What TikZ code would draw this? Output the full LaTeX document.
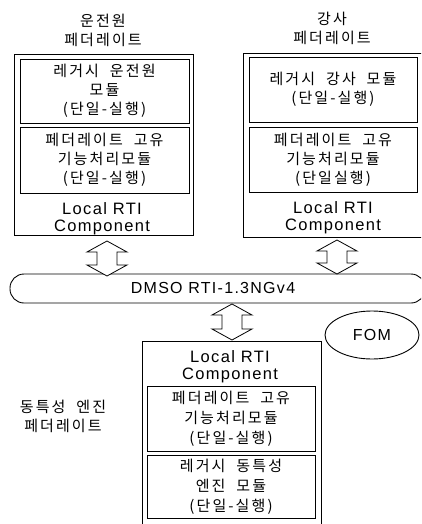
\documentclass[tikz,border=0pt]{standalone}
\usepackage{fontspec}
\setmainfont{Liberation Sans}
\newfontfamily\kr[LetterSpace=14,WordSpace=2]{Noto Sans CJK KR}
\newfontfamily\lat[LetterSpace=8]{Liberation Sans}
\usetikzlibrary{calc,shapes.geometric}
\newcommand{\hollowarrow}[2]{\draw[harrow] let \p1=(#1), \p2=(#2) in
  (\x1,\y1) -- ++(20pt,-11pt) -- ++(-10pt,0pt) -- (\x1+10pt,\y2+11pt) -- ++(10pt,0pt)
  -- (\x2,\y2) -- ++(-20pt,11pt) -- ++(10pt,0pt) -- (\x1-10pt,\y1-11pt) -- ++(-10pt,0pt) -- cycle;}
\begin{document}
\begin{tikzpicture}[x=1pt,y=-1pt,line width=0.9pt,
  box/.style={draw, rectangle, inner sep=0pt},
  kt/.style={font=\kr\fontsize{15}{19}\selectfont, align=center, inner sep=0pt},
  lt/.style={font=\lat\fontsize{16.5}{17}\selectfont, align=center, inner sep=0pt},
  harrow/.style={draw, line width=0.8pt, fill=white}]
\useasboundingbox (0,0) rectangle (421,524);
\clip (0,0) rectangle (421,524);
\fill[white] (0,0) rectangle (421,524);

% left federate
\node[kt] (ltitle) at (103,30) {운전원\\페더레이트};
\node[box, minimum width=179, minimum height=181] (lbox) at (103.5,144.5) {};
\node[box, minimum width=169, minimum height=64] (lin1) at (104.5,91) {};
\node[kt] (lin1t) at (lin1) {레거시 운전원\\모듈\\(단일-실행)};
\node[box, minimum width=169, minimum height=66] (lin2) at (104.5,160) {};
\node[kt] (lin2t) at (lin2) {페더레이트 고유\\기능처리모듈\\(단일-실행)};
\node[lt] (lrti) at (102,219) {Local RTI\\Component};

% right federate
\node[kt] (rtitle) at (332,28) {강사\\페더레이트};
\node[box, minimum width=182, minimum height=184] (rbox) at (334,145) {};
\node[box, minimum width=168, minimum height=65] (rin1) at (333,89.5) {};
\node[kt] (rin1t) at (rin1) {레거시 강사 모듈\\(단일-실행)};
\node[box, minimum width=168, minimum height=65] (rin2) at (333,159.5) {};
\node[kt] (rin2t) at (rin2) {페더레이트 고유\\기능처리모듈\\(단일실행)};
\node[lt] (rrti) at (333,218) {Local RTI\\Component};

% RTI bus
\node[draw, rounded corners=14pt, minimum width=415, minimum height=29, inner sep=0pt] (rti) at (217.5,288.5) {};
\node[lt, font=\lat\fontsize{16}{17}\selectfont] (rtit) at (213,288) {DMSO RTI-1.3NGv4};
\node[draw, ellipse, minimum width=94, minimum height=48, inner sep=0pt, font=\lat\fontsize{16}{17}\selectfont] (fom) at (372,335) {FOM};

% bottom federate
\node[kt] (btitle) at (63,416) {동특성 엔진\\페더레이트};
\node[box, minimum width=179, minimum height=192] (bbox) at (231.5,437) {};
\node[lt] (brti) at (230,367) {Local RTI\\Component};
\node[box, minimum width=168, minimum height=65] (bin1) at (231,418.5) {};
\node[kt, font=\kr\fontsize{15}{20}\selectfont] (bin1t) at (bin1) {페더레이트 고유\\기능처리모듈\\(단일-실행)};
\node[box, minimum width=168, minimum height=63] (bin2) at (231,486.5) {};
\node[kt, font=\kr\fontsize{15}{20}\selectfont] (bin2t) at (bin2) {레거시 동특성\\엔진 모듈\\(단일-실행)};

% arrows
\coordinate (a1t) at (107,241);
\coordinate (a1b) at (107,276);
\coordinate (a2t) at (337,240);
\coordinate (a2b) at (337,274);
\coordinate (a3t) at (232,304);
\coordinate (a3b) at (232,340);
\hollowarrow{a1t}{a1b}
\hollowarrow{a2t}{a2b}
\hollowarrow{a3t}{a3b}
\end{tikzpicture}
\end{document}
